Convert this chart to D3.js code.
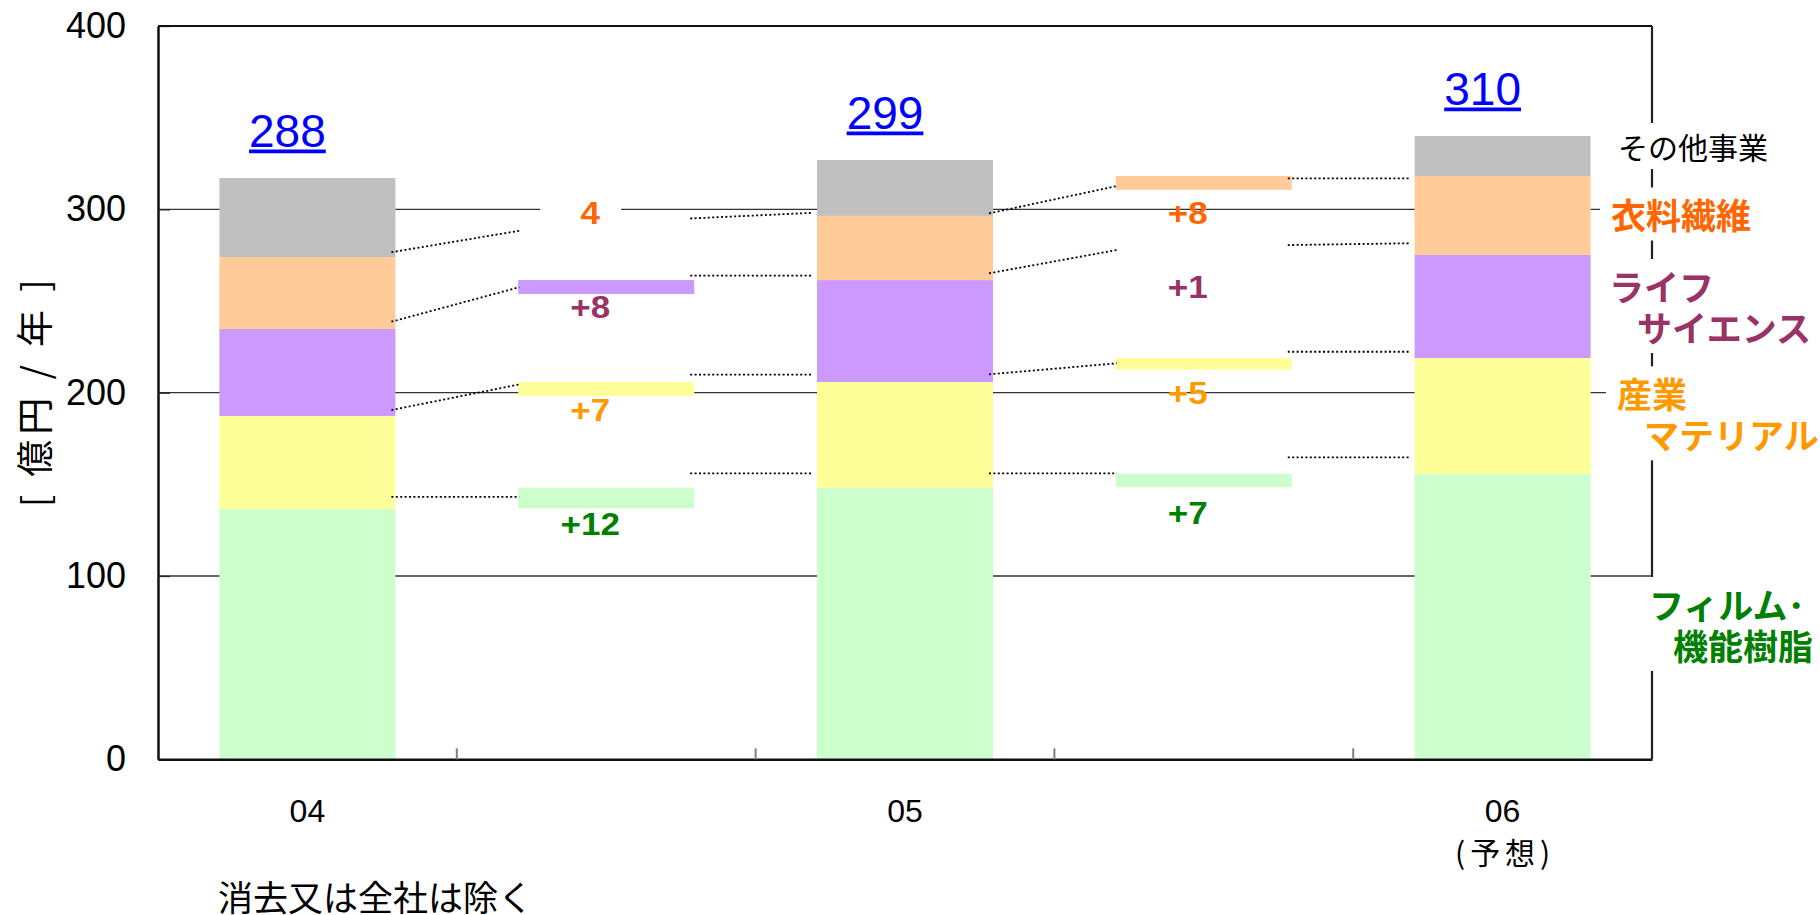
<!DOCTYPE html>
<html><head><meta charset="utf-8">
<script src="https://cdn.jsdelivr.net/npm/d3@7"></script>
<style>html,body{margin:0;padding:0;background:#fff;} svg{display:block;}</style>
</head><body>
<svg id="chart" width="1820" height="915"></svg>
<script>
// ---------------- data ----------------
const years = ["04","05","06"];
const slots = ["04","d0405","05","d0506","06"];
const yearSubLabels = ["","","(予想)"];
const seriesNames = ["フィルム・機能樹脂","産業マテリアル","ライフサイエンス","衣料繊維","その他事業"];
const filmResin = [136.5,148.2,155.8];
const industrialMaterials = [50.8,57.6,63.1];
const lifeScience = [47.4,55.6,56.2];
const apparelFiber = [39.3,35.0,43.1];
const otherBusiness = [43.1,30.5,21.8];
const totalLabels = ["288","299","310"];
const yTicks = [0,100,200,300,400];
// change bars (film, industrial, life, apparel); null = no visible bar
const change0405 = [11.3,7.6,7.6,null];
const change0506 = [7.4,6.4,null,7.6];
const changeText0405 = ["+12","+7","+8","4"];
const changeText0506 = ["+7","+5","+1","+8"];
const changeLabelLevel0405 = [128.3,190.5,246.7,298];
const changeLabelLevel0506 = [134.6,200,257.9,298.3];
// dotted link levels [start, end] in 億円
const linkIn0405 = [[143.2,143.2],[190.5,204.5],[238.7,257.5],[276.6,288.3]];
const linkOut0405 = [[156,156],[209.8,209.8],[263.8,263.8],[295,298.1]];
const linkIn0506 = [[156,156],[210,216],[265.1,277.8],[297.8,312.7]];
const linkOut0506 = [[164.7,164.7],[222.3,222.3],[280.5,281.5],[316.9,316.9]];
const legendLines = [["フィルム･","機能樹脂"],["産業","マテリアル"],["ライフ","サイエンス"],["衣料繊維"],["その他事業"]];
const yAxisTitle = "[ 億円 / 年 ]";
const footnote = "消去又は全社は除く";

// ---------------- styles ----------------
const fills = ["#CCFFCC","#FFFF99","#CC99FF","#FFCC99","#C0C0C0"];
const textColors = ["#008000","#FF9900","#993366","#FF6600","#000000"];
const latin = "'Liberation Sans', Arial, sans-serif";
const cjk = "'Noto Sans CJK JP', sans-serif";

const svg = d3.select("#chart");
const L = 158, R = 1652, T = 26, B = 759.3;
const y = d3.scaleLinear().domain([0,400]).range([B,T]);
const x = d3.scaleBand().domain(slots).range([L,R]).paddingInner(0.411).paddingOuter(0.2055);
const bw = x.bandwidth();

svg.append("rect").attr("width",1820).attr("height",915).attr("fill","#fff");

// gridlines
svg.append("g").selectAll("line").data(yTicks.filter(v=>v>0 && v<400)).join("line")
  .attr("x1",L).attr("x2",R).attr("y1",d=>y(d)).attr("y2",d=>y(d))
  .attr("stroke","#333").attr("stroke-width",1.3);

// stacked bars
const series = [filmResin, industrialMaterials, lifeScience, apparelFiber, otherBusiness];
const keys = series.map((_,k)=>"k"+k);
const rows = years.map((yr,i)=>{const o={year:yr}; series.forEach((s,k)=>o["k"+k]=s[i]); return o;});
const stack = d3.stack().keys(keys)(rows);
svg.append("g").selectAll("g").data(stack).join("g").attr("fill",(d,k)=>fills[k])
  .selectAll("rect").data(d=>d).join("rect")
  .attr("x",d=>x(d.data.year)).attr("width",bw)
  .attr("y",d=>y(d[1])).attr("height",d=>y(d[0])-y(d[1]));

// change bars, links, labels
const changes = [
  {slot:"d0405", from:0, to:1, bars:change0405, text:changeText0405, level:changeLabelLevel0405, linkIn:linkIn0405, linkOut:linkOut0405},
  {slot:"d0506", from:1, to:2, bars:change0506, text:changeText0506, level:changeLabelLevel0506, linkIn:linkIn0506, linkOut:linkOut0506}
];
const gChange = svg.append("g");
const gLinks = svg.append("g");
const gLabels = svg.append("g");
changes.forEach(c=>{
  c.bars.forEach((v,k)=>{
    if(v==null) return;
    const top = stack[k][c.to][1];
    gChange.append("rect").attr("x",x(c.slot)).attr("width",bw)
      .attr("y",y(top)).attr("height",y(top-v)-y(top)).attr("fill",fills[k]);
  });
  const dotted = sel => sel.attr("stroke","#000").attr("stroke-width",1.8).attr("stroke-dasharray","2 2.4").attr("fill","none");
  c.linkIn.forEach(([a,b])=>{
    gLinks.append("line").attr("x1",x(years[c.from])+bw-4).attr("y1",y(a))
      .attr("x2",x(c.slot)+1).attr("y2",y(b)).call(dotted);
  });
  c.linkOut.forEach(([a,b])=>{
    gLinks.append("line").attr("x1",x(c.slot)+bw-4).attr("y1",y(a))
      .attr("x2",x(years[c.to])-4).attr("y2",y(b)).call(dotted);
  });
  c.text.forEach((t,k)=>{
    const cx = x(c.slot)+bw/2-16, cy = y(c.level[k]);
    if(c.bars[k]==null){
      gLabels.append("rect").attr("x",cx-50).attr("y",cy-25).attr("width",81).attr("height",50).attr("fill","#fff");
    }
    gLabels.append("text").attr("transform",`translate(${cx},${cy}) scale(1,0.88)`).attr("dy","0.36em")
      .attr("text-anchor","middle").attr("font-family",latin).attr("font-weight","bold")
      .attr("font-size",35).attr("fill",textColors[k]).text(t);
  });
});

// y axis
const gy = svg.append("g").attr("transform",`translate(${L},0)`)
  .call(d3.axisLeft(y).tickValues(yTicks).tickSize(-12).tickSizeOuter(0).tickPadding(32));
gy.select(".domain").attr("stroke","#111").attr("stroke-width",2.5);
gy.selectAll(".tick line").attr("stroke","#222").attr("stroke-width",1.3);
gy.selectAll("text").attr("font-family",latin).attr("font-size",36).attr("fill","#000");

// x axis
const gx = svg.append("g").attr("transform",`translate(0,${B})`)
  .call(d3.axisBottom(x).tickSize(0).tickSizeOuter(0).tickPadding(40)
    .tickFormat(d=>years.includes(d)?d:""));
gx.select(".domain").attr("stroke","#111").attr("stroke-width",2.5);
gx.selectAll("text").attr("font-family",latin).attr("font-size",32).attr("fill","#000");
// category separator ticks
const step = x.step();
svg.append("g").selectAll("line").data(slots.slice(1)).join("line")
  .attr("x1",d=>x(d)-(step-bw)/2).attr("x2",d=>x(d)-(step-bw)/2)
  .attr("y1",B-11).attr("y2",B).attr("stroke","#808080").attr("stroke-width",2);
// sub labels
years.forEach((yr,i)=>{
  if(!yearSubLabels[i]) return;
  svg.append("text").attr("x",x(yr)+bw/2).attr("y",864).attr("text-anchor","middle")
    .attr("font-family",cjk).attr("font-size",30).attr("textLength",95).attr("lengthAdjust","spacing")
    .text(yearSubLabels[i]);
});

// frame
svg.append("line").attr("x1",L).attr("x2",R).attr("y1",T).attr("y2",T).attr("stroke","#111").attr("stroke-width",2.2);
svg.append("line").attr("x1",R).attr("x2",R).attr("y1",T).attr("y2",B).attr("stroke","#222").attr("stroke-width",2.2);

// legend labels at right (centred on 06 segments)
const legendDx = [-3,-35,-43,-41,-34];
const legendIndent = [24,27,28,0,0];
const legendNudge = [10,0,2,1,-8];
stack.forEach((s,k)=>{
  const lines = legendLines[k];
  const mid = y((s[2][0]+s[2][1])/2) + legendNudge[k];
  const bold = k<4;
  const fs = bold?35:30;
  const g = svg.append("g");
  const first = mid + (bold?13:11) - (lines.length-1)*20.5;
  const bg = g.append("rect").attr("fill","#fff");
  const tg = g.append("g");
  lines.forEach((t,j)=>{
    tg.append("text").attr("x",R+legendDx[k]+(j?legendIndent[k]:0)).attr("y",first+j*41)
      .attr("font-family",cjk).attr("font-weight",bold?"bold":"normal").attr("font-size",fs)
      .attr("fill",textColors[k]).text(t);
  });
  const bb = tg.node().getBBox();
  bg.attr("x",bb.x-11).attr("y",bb.y-1).attr("width",bb.width+24).attr("height",bb.height+2);
});

// totals
years.forEach((yr,i)=>{
  const top = stack[4][i][1];
  const tx = x(yr)+bw/2-20, ty = y(top)-31;
  const t = svg.append("text").attr("x",tx).attr("y",ty).attr("text-anchor","middle")
    .attr("font-family",latin).attr("font-size",46).attr("fill","#0000FF").text(totalLabels[i]);
  const w = t.node().getComputedTextLength();
  svg.append("line").attr("x1",tx-w/2).attr("x2",tx+w/2).attr("y1",ty+4.3).attr("y2",ty+4.3)
    .attr("stroke","#0000FF").attr("stroke-width",3.7);
});

// y title
svg.append("text").attr("transform","translate(32.5,393.3) rotate(-90)")
  .attr("text-anchor","middle").attr("dominant-baseline","central")
  .attr("font-family",cjk).attr("font-size",37).attr("textLength",228).attr("lengthAdjust","spacing")
  .text(yAxisTitle);

// footnote
svg.append("text").attr("x",218).attr("y",911).attr("font-family",cjk).attr("font-size",35).text(footnote);
</script>
</body></html>
